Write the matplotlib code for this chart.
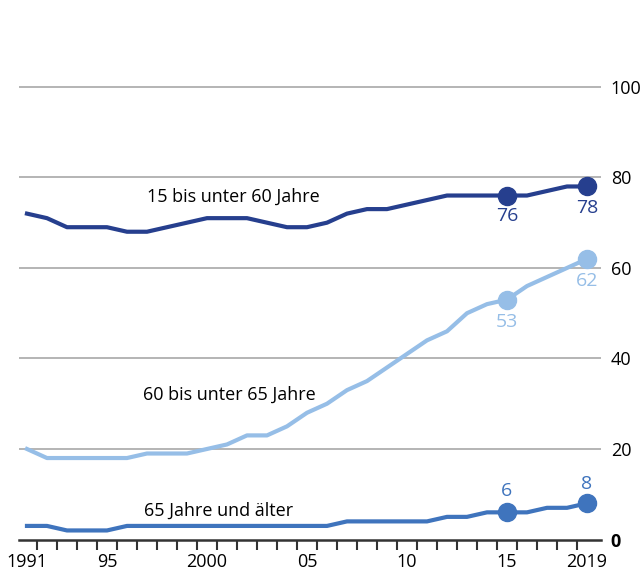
import matplotlib
matplotlib.use('Agg')
import matplotlib.pyplot as plt
import numpy as np

plt.rcParams['font.family'] = ['Open Sans', 'DejaVu Sans']

years = list(range(1991, 2020))
age_15_60 = [72, 71, 69, 69, 69, 68, 68, 69, 70, 71, 71, 71, 70, 69, 69, 70, 72, 73, 73, 74,
             75, 76, 76, 76, 76, 76, 77, 78, 78]
age_60_65 = [20, 18, 18, 18, 18, 18, 19, 19, 19, 20, 21, 23, 23, 25, 28, 30, 33, 35, 38, 41,
             44, 46, 50, 52, 53, 56, 58, 60, 62]
age_65_plus = [3, 3, 2, 2, 2, 3, 3, 3, 3, 3, 3, 3, 3, 3, 3, 3, 4, 4, 4, 4,
               4, 5, 5, 6, 6, 6, 7, 7, 8]

xtick_pos = [1991, 1995, 2000, 2005, 2010, 2015, 2019]
xtick_labels = ['1991', '95', '2000', '05', '10', '15', '2019']
ytick_pos = [0, 20, 40, 60, 80, 100]

c_dark = '#263f8e'
c_mid = '#3f74bd'
c_light = '#96bee7'

fig = plt.figure(figsize=(6.41, 5.74), dpi=100)
ax = fig.add_axes([0.0296, 0.0601, 0.908, 0.9399])

for y in ytick_pos[1:]:
    ax.axhline(y, color='#a8a8a8', linewidth=1.2, zorder=1)

series = [(age_15_60, c_dark), (age_60_65, c_light), (age_65_plus, c_mid)]
for vals, col in series:
    ax.plot(years, vals, color=col, linewidth=3, solid_joinstyle='round', zorder=3)
    # highlighted points for 2015 and 2019
    ax.plot([2015, 2019], [vals[24], vals[28]], 'o', color=col, markersize=13, zorder=4)

fs = 13
vfs = 14
ax.text(1997.0, 75.7, '15 bis unter 60 Jahre', fontsize=fs, va='center', ha='left', color='black')
ax.text(1996.8, 31.9, '60 bis unter 65 Jahre', fontsize=fs, va='center', ha='left', color='black')
ax.text(1996.85, 6.3, '65 Jahre und älter', fontsize=fs, va='center', ha='left', color='black')

ax.text(2015, age_15_60[24] - 4.6, str(age_15_60[24]), fontsize=vfs, ha='center', va='center', color=c_dark)
ax.text(2019, age_15_60[28] - 4.8, str(age_15_60[28]), fontsize=vfs, ha='center', va='center', color=c_dark)
ax.text(2015, age_60_65[24] - 5.0, str(age_60_65[24]), fontsize=vfs, ha='center', va='center', color=c_light)
ax.text(2019, age_60_65[28] - 4.9, str(age_60_65[28]), fontsize=vfs, ha='center', va='center', color=c_light)
ax.text(2015, age_65_plus[24] + 4.7, str(age_65_plus[24]), fontsize=vfs, ha='center', va='center', color=c_mid)
ax.text(2019, age_65_plus[28] + 4.2, str(age_65_plus[28]), fontsize=vfs, ha='center', va='center', color=c_mid)

ax.set_xlim(1990.6, 2019.7)
ax.set_ylim(0, 119.2)

for s in ['top', 'left', 'right']:
    ax.spines[s].set_visible(False)
ax.spines['bottom'].set_color('#333333')
ax.spines['bottom'].set_linewidth(1.8)
ax.spines['bottom'].set_zorder(5)

ax.set_xticks(xtick_pos)
ax.set_xticklabels(xtick_labels, fontsize=fs)
ax.set_xticks(np.arange(1991.5, 2019, 1), minor=True)
ax.tick_params(axis='x', which='major', length=0, pad=10)
ax.tick_params(axis='x', which='minor', length=7, width=1.5, color='#333333')

ax.yaxis.tick_right()
ax.set_yticks(ytick_pos)
ax.set_yticklabels([str(v) for v in ytick_pos], fontsize=fs)
ax.tick_params(axis='y', length=0, pad=7)
ax.get_yticklabels()[0].set_fontweight('bold')

fig.savefig('out.png', dpi=100)
